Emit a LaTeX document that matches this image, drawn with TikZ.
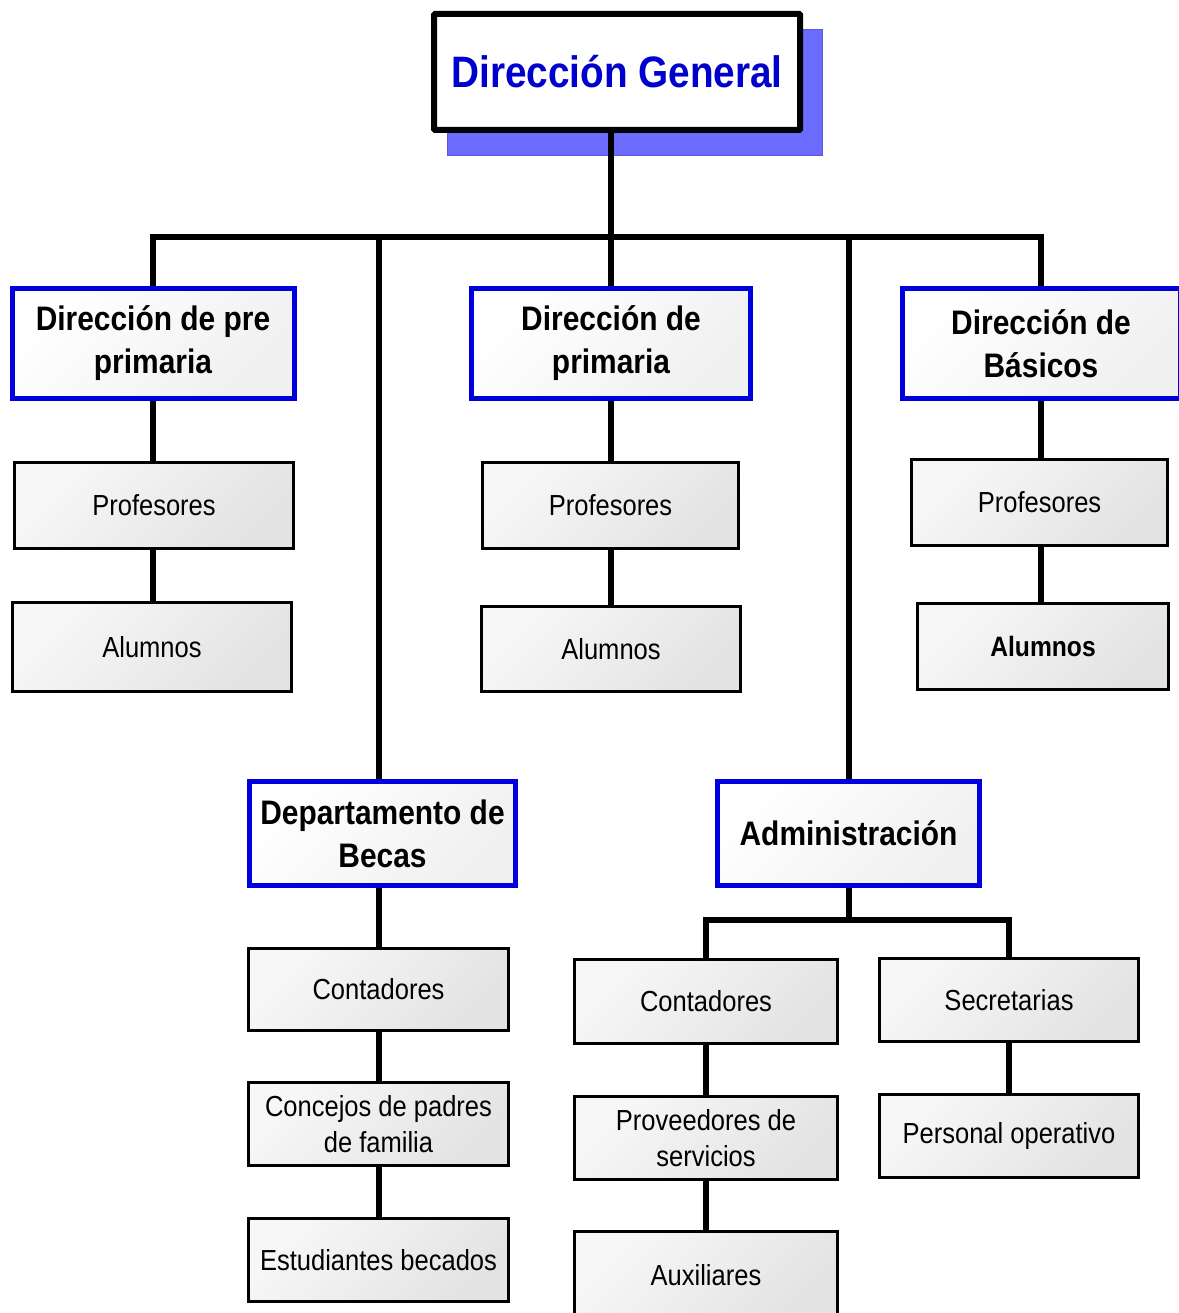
\documentclass[tikz,border=0pt]{standalone}
\usepackage{fontspec}
\setmainfont{Liberation Sans}[FakeStretch=0.88]
\usetikzlibrary{backgrounds}
\definecolor{azulg}{RGB}{0,0,204}
\definecolor{azulb}{RGB}{0,0,220}
\definecolor{sombra}{RGB}{107,107,255}
\tikzset{
  titulo/.style={draw=black, line width=6pt, fill=white, text=azulg, rounded corners=1pt,
    inner sep=0pt, font=\fontsize{44}{50}\selectfont\bfseries},
  jefe/.style={draw=azulb, line width=5pt, top color=white, bottom color=black!6, shading angle=45,
    align=center, inner sep=0pt, font=\fontsize{34}{43}\selectfont\bfseries},
  caja/.style={draw=black, line width=3pt, top color=black!3, bottom color=black!11, shading angle=45,
    align=center, inner sep=0pt, font=\fontsize{29}{36}\selectfont},
  linea/.style={line width=6pt}
}
\begin{document}
\begin{tikzpicture}[x=1pt,y=-1pt]
\useasboundingbox (0,0) rectangle (1178,1313);
\node[titulo, minimum width=366pt, minimum height=116pt] (dg) at (617,72) {Dirección General};

\node[jefe, minimum width=282pt, minimum height=110pt] (pre) at (153,343.5) {Dirección de pre\\primaria};
\node[jefe, minimum width=279pt, minimum height=110pt] (prim) at (611,343.5) {Dirección de\\primaria};
\node[jefe, minimum width=278pt, minimum height=110pt] (bas) at (1041,343.5) {Dirección de\\Básicos};

\node[caja, minimum width=279pt, minimum height=86pt] (prof1) at (154,505.5) {Profesores};
\node[caja, minimum width=279pt, minimum height=89pt] (alum1) at (152,647) {Alumnos};
\node[caja, minimum width=256pt, minimum height=86pt] (prof2) at (610.5,505.5) {Profesores};
\node[caja, minimum width=259pt, minimum height=85pt] (alum2) at (611,649) {Alumnos};
\node[caja, minimum width=256pt, minimum height=86pt] (prof3) at (1039.5,502.5) {Profesores};
\node[caja, minimum width=251pt, minimum height=86pt, font=\fontsize{28}{34}\selectfont\bfseries] (alum3) at (1043,646.5) {Alumnos};

\node[jefe, minimum width=266pt, minimum height=104pt] (becas) at (382.5,833.5) {Departamento de\\Becas};
\node[jefe, minimum width=262pt, minimum height=104pt] (admin) at (848.5,833.5) {Administración};

\node[caja, minimum width=260pt, minimum height=82pt] (cont1) at (378.5,989.5) {Contadores};
\node[caja, minimum width=260pt, minimum height=83pt] (conc) at (378.5,1124) {Concejos de padres\\de familia};
\node[caja, minimum width=260pt, minimum height=83pt] (estud) at (378.5,1260) {Estudiantes becados};

\node[caja, minimum width=263pt, minimum height=84pt] (cont2) at (706,1001.5) {Contadores};
\node[caja, minimum width=263pt, minimum height=83pt] (prov) at (706,1138) {Proveedores de\\servicios};
\node[caja, minimum width=263pt, minimum height=87pt] (aux) at (706,1275) {Auxiliares};
\node[caja, minimum width=259pt, minimum height=83pt] (secr) at (1009,1000) {Secretarias};
\node[caja, minimum width=259pt, minimum height=83pt] (pers) at (1009,1136) {Personal operativo};

\coordinate (eje) at (0,237);
\coordinate (eje2) at (0,920);
\begin{scope}[on background layer]
\fill[sombra, draw=sombra!85!black, line width=1pt] ([xshift=16pt,yshift=-19pt]dg.north west) rectangle ([xshift=19pt,yshift=-23pt]dg.south east);
\draw[linea] (dg -| prim) -- (prim);
\draw[linea] (pre) |- (eje -| bas) -- (bas);
\draw[linea] (eje -| estud) -- (estud);
\draw[linea] (eje -| admin) -- (admin);
\draw[linea] (pre) -- (pre |- alum1);
\draw[linea] (prim) -- (prim |- alum2);
\draw[linea] (bas) -- (bas |- alum3);
\draw[linea] (admin) -- (admin |- eje2);
\draw[linea] (aux) |- (eje2 -| pers) -- (pers);
\end{scope}
\end{tikzpicture}
\end{document}
